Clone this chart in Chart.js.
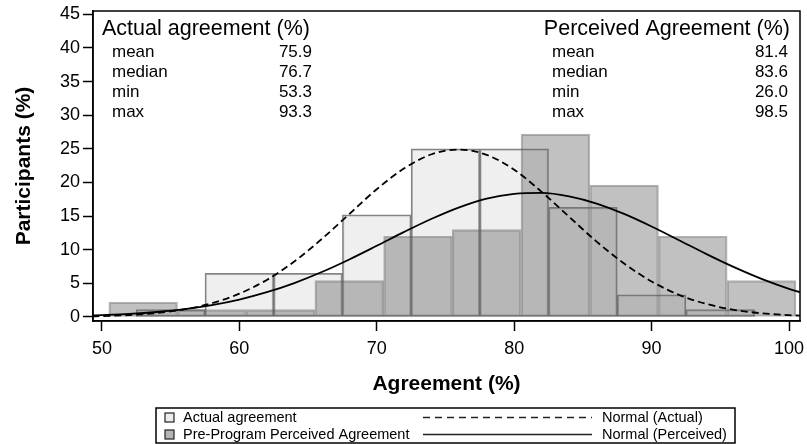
<!DOCTYPE html>
<html>
<head>
<meta charset="utf-8">
<script src="https://cdn.jsdelivr.net/npm/chart.js@4"></script>
<style>
  html, body { margin: 0; padding: 0; background: #fff; }
  #wrap { width: 807px; height: 444px; }
</style>
</head>
<body>
<div id="wrap"><canvas id="c" width="807" height="444"></canvas></div>
<script>
// Histogram bins (5-point wide), percent of participants
const actualBinCenters = [55, 60, 65, 70, 75, 80, 85, 90, 95];
const actualPercent = [1.1, 6.5, 6.5, 15.2, 25.0, 25.0, 16.3, 3.3, 1.1];
const perceivedBinCenters = [53, 58, 63, 68, 73, 78, 83, 88, 93, 98];
const perceivedPercent = [2.2, 1.1, 1.1, 5.4, 12.0, 13.0, 27.2, 19.6, 12.0, 5.4];

// Fitted normal curves, sampled along the agreement axis
const curveX = [49.3, 50, 52, 54, 56, 58, 60, 62, 64, 66, 68, 70, 72, 74, 76, 78, 80, 82, 84, 86, 88, 90, 92, 94, 96, 98, 100, 100.8];
const normalActual = [0.1, 0.13, 0.29, 0.59, 1.13, 2.04, 3.46, 5.51, 8.25, 11.6, 15.3, 19.0, 22.1, 24.2, 24.9, 24.1, 21.9, 18.6, 14.9, 11.2, 7.95, 5.28, 3.29, 1.93, 1.06, 0.55, 0.27, 0.2];
const normalPerceived = [0.22, 0.27, 0.45, 0.74, 1.16, 1.77, 2.59, 3.68, 5.04, 6.68, 8.55, 10.58, 12.65, 14.6, 16.3, 17.6, 18.3, 18.46, 17.94, 16.87, 15.32, 13.45, 11.41, 9.35, 7.41, 5.67, 4.19, 3.68];

// Axis ticks
const xTicks = [50, 60, 70, 80, 90, 100];
const yTicks = [0, 5, 10, 15, 20, 25, 30, 35, 40, 45];

// Summary statistics
const statLabels = ['mean', 'median', 'min', 'max'];
const actualStats = [75.9, 76.7, 53.3, 93.3];
const perceivedStats = [81.4, 83.6, 26.0, 98.5];

const FONT = '"Liberation Sans", Arial, Helvetica, sans-serif';
Chart.defaults.font.family = FONT;
Chart.defaults.color = '#000';

const LIGHT_FILL = 'rgba(228,228,228,0.6)';
const LIGHT_EDGE = 'rgba(80,80,80,0.7)';
const DARK_FILL = 'rgba(100,100,100,0.4)';
const DARK_EDGE = 'rgba(90,90,90,0.45)';

const toPoints = (xs, ys) => xs.map((x, i) => ({ x: x, y: ys[i] }));

// Frame, statistics boxes and the bottom legend
const decorPlugin = {
  id: 'decor',
  afterDraw(chart) {
    const ctx = chart.ctx;
    const a = chart.chartArea;
    ctx.save();
    ctx.strokeStyle = '#000';
    ctx.lineWidth = 1.5;
    ctx.strokeRect(a.left, a.top, a.right - a.left, a.bottom - a.top);

    ctx.fillStyle = '#000';
    ctx.textBaseline = 'middle';

    // Actual agreement block (left)
    ctx.font = '21.5px ' + FONT;
    ctx.textAlign = 'left';
    ctx.fillText('Actual agreement (%)', a.left + 9, a.top + 18);
    ctx.font = '17px ' + FONT;
    statLabels.forEach((lab, i) => {
      const y = a.top + 41 + i * 20;
      ctx.textAlign = 'left';
      ctx.fillText(lab, a.left + 19, y);
      ctx.textAlign = 'right';
      ctx.fillText(actualStats[i].toFixed(1), a.left + 219, y);
    });

    // Perceived agreement block (right)
    ctx.font = '21.5px ' + FONT;
    ctx.textAlign = 'right';
    ctx.fillText('Perceived Agreement (%)', a.right - 10, a.top + 18);
    ctx.font = '17px ' + FONT;
    statLabels.forEach((lab, i) => {
      const y = a.top + 41 + i * 20;
      ctx.textAlign = 'left';
      ctx.fillText(lab, a.right - 248, y);
      ctx.textAlign = 'right';
      ctx.fillText(perceivedStats[i].toFixed(1), a.right - 12, y);
    });

    // Legend box
    const L = 156, R = 735, T = 408, B = 443;
    ctx.lineWidth = 1.5;
    ctx.strokeStyle = '#000';
    ctx.strokeRect(L, T, R - L, B - T);
    const rows = [
      { y: 417.5, fill: '#ececec', label: chart.data.datasets[0].label, dash: [7, 5], curve: chart.data.datasets[2].label },
      { y: 434.5, fill: '#b4b4b4', label: chart.data.datasets[1].label, dash: [], curve: chart.data.datasets[3].label }
    ];
    ctx.font = '14.5px ' + FONT;
    rows.forEach(r => {
      ctx.fillStyle = r.fill;
      ctx.fillRect(165, r.y - 4.5, 9, 9);
      ctx.lineWidth = 1.2;
      ctx.strokeStyle = '#222';
      ctx.strokeRect(165, r.y - 4.5, 9, 9);
      ctx.fillStyle = '#000';
      ctx.textAlign = 'left';
      ctx.fillText(r.label, 183, r.y);
      ctx.beginPath();
      ctx.setLineDash(r.dash);
      ctx.lineWidth = 1.5;
      ctx.moveTo(423, r.y);
      ctx.lineTo(592, r.y);
      ctx.stroke();
      ctx.setLineDash([]);
      ctx.fillText(r.curve, 602, r.y);
    });
    ctx.restore();
  }
};

const xCommon = {
  type: 'linear',
  min: 49.35,
  max: 100.8,
  offset: false
};

new Chart(document.getElementById('c'), {
  type: 'bar',
  data: {
    datasets: [
      {
        type: 'bar',
        label: 'Actual agreement',
        data: toPoints(actualBinCenters, actualPercent),
        xAxisID: 'x',
        backgroundColor: LIGHT_FILL,
        borderColor: LIGHT_EDGE,
        borderWidth: 1.5,
        borderSkipped: false,
        barPercentage: 1,
        categoryPercentage: 1,
        grouped: false,
        order: 4
      },
      {
        type: 'bar',
        label: 'Pre-Program Perceived Agreement',
        data: toPoints(perceivedBinCenters, perceivedPercent),
        xAxisID: 'x2',
        backgroundColor: DARK_FILL,
        borderColor: DARK_EDGE,
        borderWidth: 1.5,
        borderSkipped: false,
        barPercentage: 1,
        categoryPercentage: 1,
        grouped: false,
        order: 3
      },
      {
        type: 'line',
        label: 'Normal (Actual)',
        data: toPoints(curveX, normalActual),
        xAxisID: 'x',
        borderColor: '#000',
        borderWidth: 1.8,
        borderDash: [7, 4],
        pointRadius: 0,
        fill: false,
        cubicInterpolationMode: 'monotone',
        order: 2
      },
      {
        type: 'line',
        label: 'Normal (Perceived)',
        data: toPoints(curveX, normalPerceived),
        xAxisID: 'x',
        borderColor: '#000',
        borderWidth: 1.8,
        pointRadius: 0,
        fill: false,
        cubicInterpolationMode: 'monotone',
        order: 1
      }
    ]
  },
  options: {
    responsive: false,
    animation: false,
    events: [],
    layout: { padding: { top: 11, right: 7, bottom: 0, left: 0 } },
    plugins: {
      legend: { display: false },
      tooltip: { enabled: false }
    },
    scales: {
      x: Object.assign({}, xCommon, {
        position: 'bottom',
        afterBuildTicks: s => { s.ticks = xTicks.map(v => ({ value: v })); },
        afterFit: s => { s.height = 123; s.paddingLeft = 0; s.paddingRight = 0; },
        grid: { display: true, drawOnChartArea: false, drawTicks: true, tickLength: 10, tickColor: '#000', tickWidth: 1.5, offset: false },
        border: { display: true, color: '#000', width: 1.5 },
        ticks: { font: { size: 18 }, color: '#000', padding: 7, maxRotation: 0, autoSkip: false },
        title: { display: true, text: 'Agreement (%)', font: { size: 21, weight: 'bold' }, color: '#000', padding: { top: 0, bottom: 47 } }
      }),
      x2: Object.assign({}, xCommon, {
        display: false,
        afterBuildTicks: s => { s.ticks = xTicks.map(v => ({ value: v })); },
        grid: { offset: false }
      }),
      y: {
        type: 'linear',
        position: 'left',
        min: -0.6,
        max: 45.5,
        afterBuildTicks: s => { s.ticks = yTicks.map(v => ({ value: v })); },
        afterFit: s => { s.width = 93; s.paddingTop = 0; s.paddingBottom = 0; },
        grid: { display: true, drawOnChartArea: false, drawTicks: true, tickLength: 10, tickColor: '#000', tickWidth: 1.5 },
        border: { display: true, color: '#000', width: 1.5 },
        ticks: { font: { size: 18 }, color: '#000', padding: 3, autoSkip: false },
        title: { display: true, text: 'Participants (%)', font: { size: 21, weight: 'bold' }, color: '#000', padding: { top: 12, bottom: 0 } }
      }
    }
  },
  plugins: [decorPlugin]
});
</script>
</body>
</html>
